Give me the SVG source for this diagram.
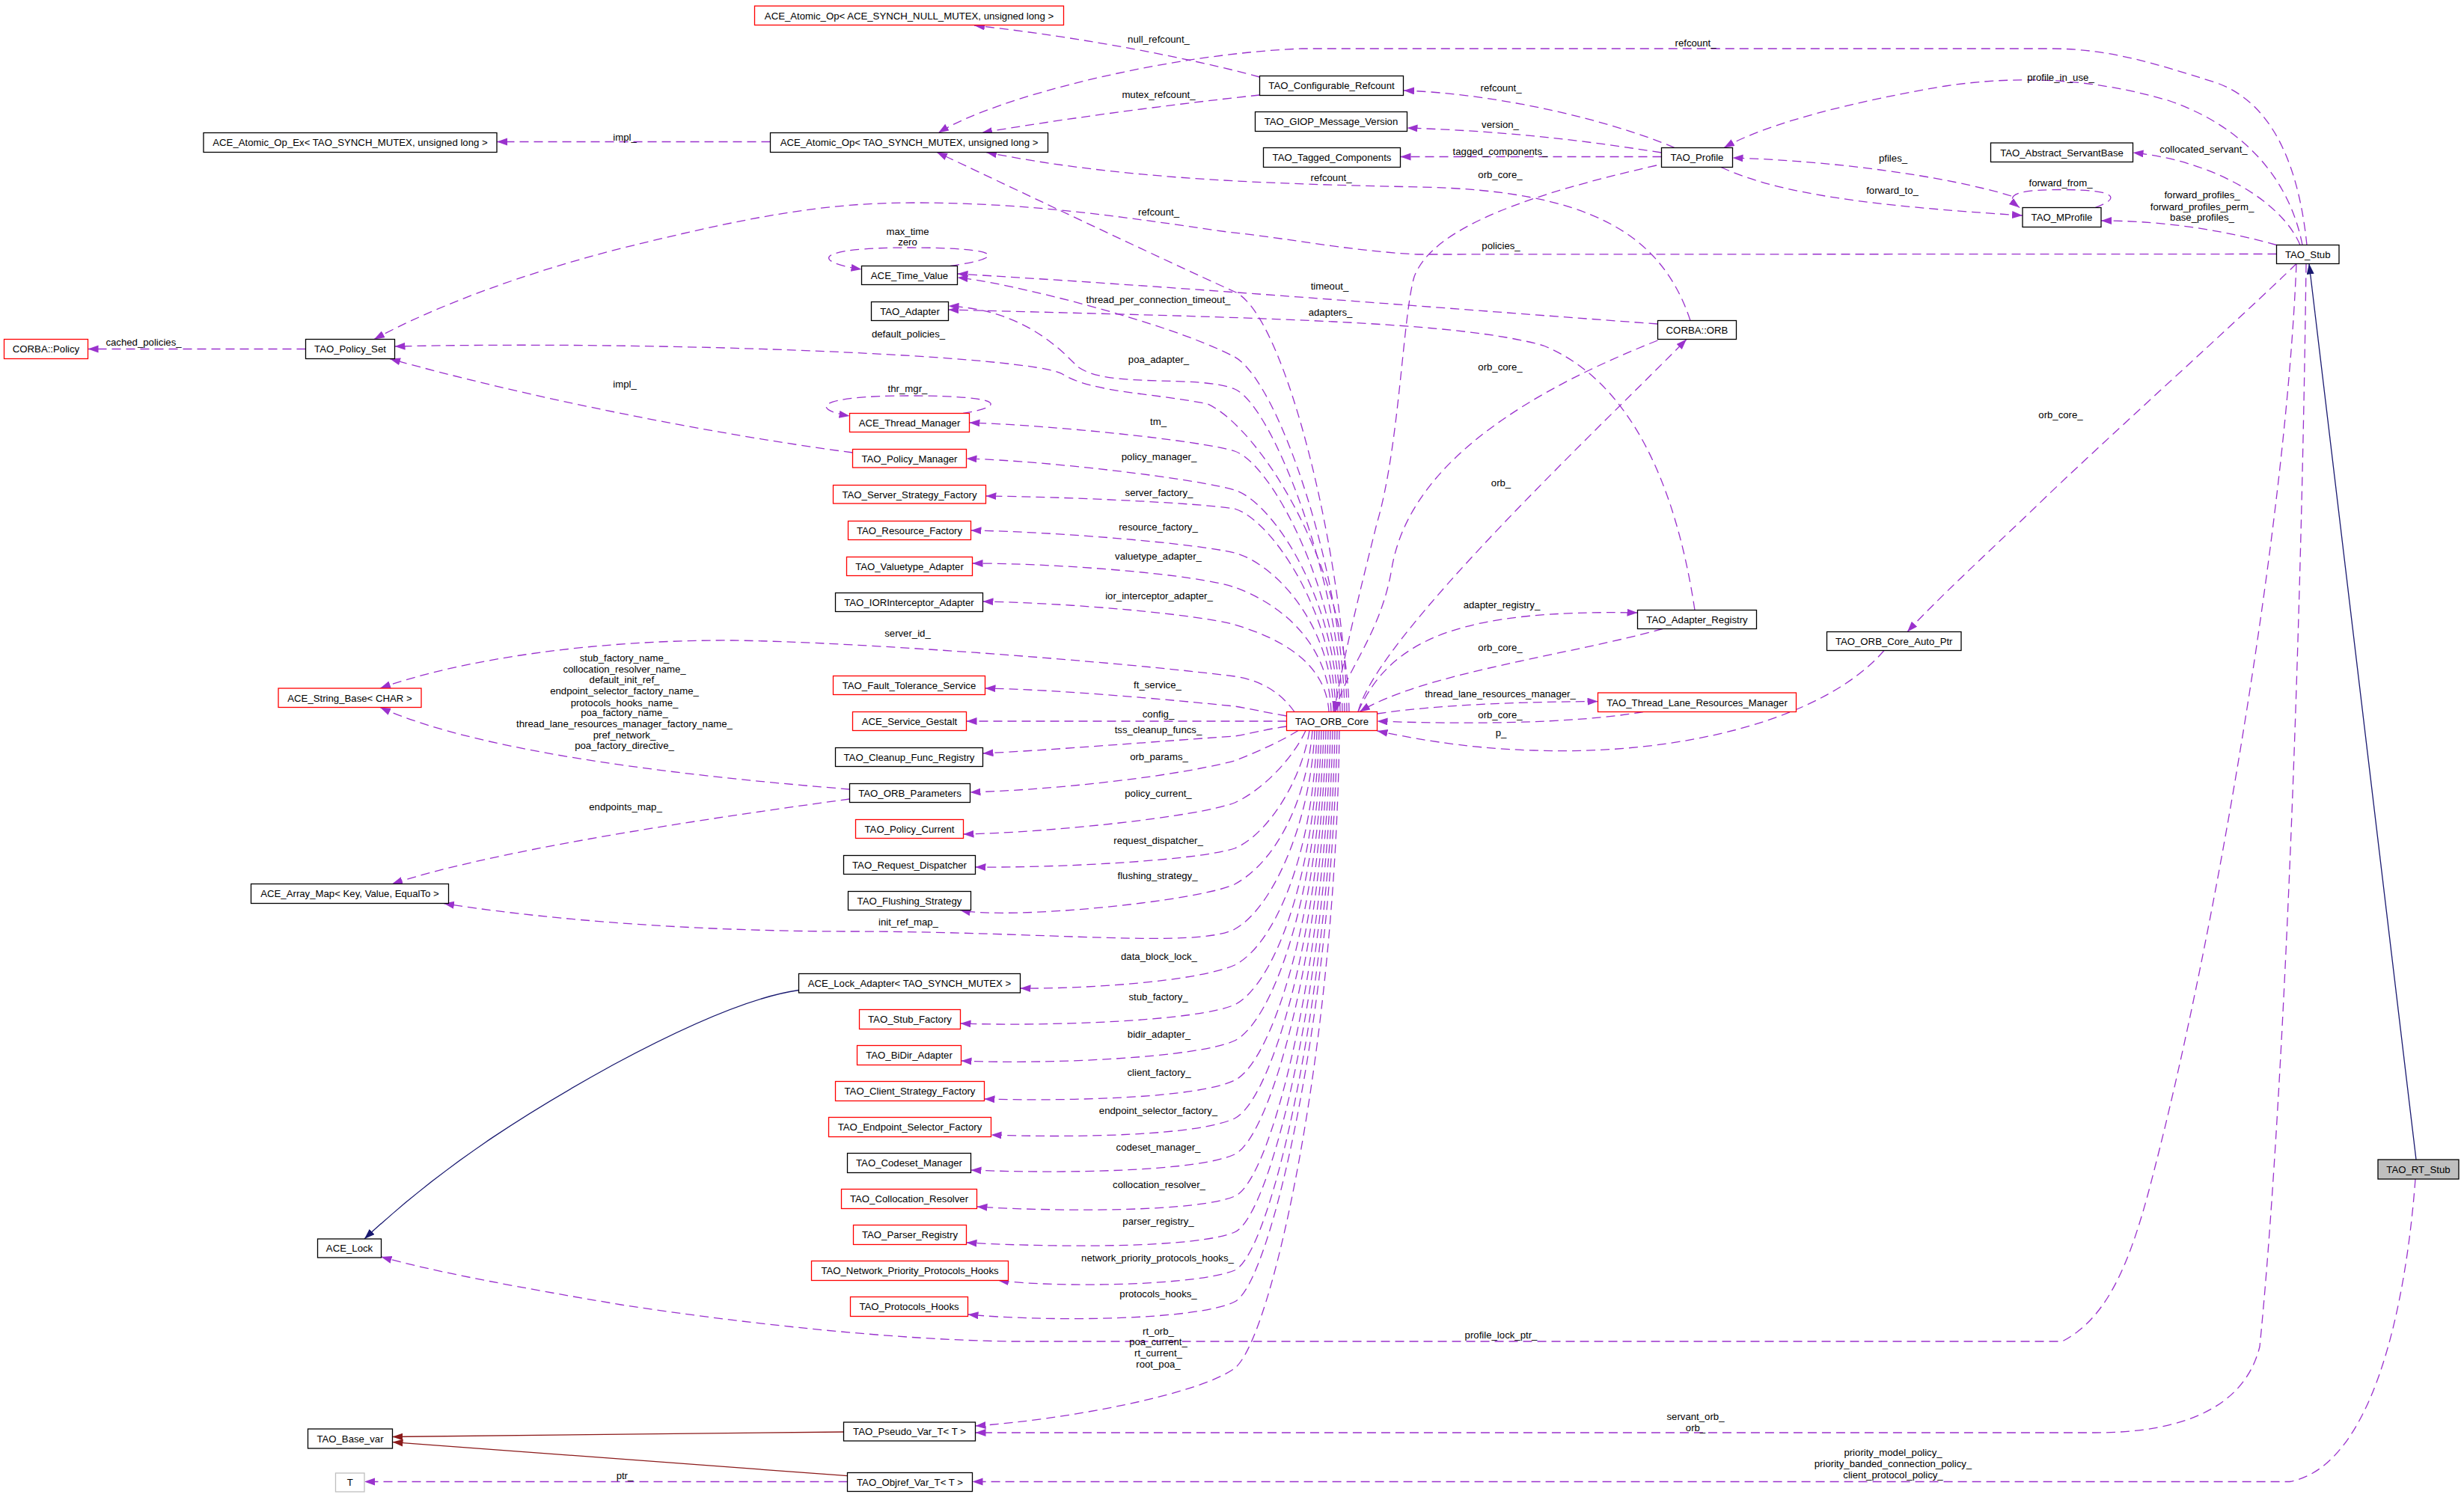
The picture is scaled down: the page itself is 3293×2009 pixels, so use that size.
<svg xmlns="http://www.w3.org/2000/svg" width="3293" height="2009" viewBox="0 0 3293 2009">
<style>
text{font-family:"Liberation Sans",Arial,sans-serif;font-size:13.2px;fill:#000;text-anchor:middle}
.n rect{fill:#fff;stroke:#000;stroke-width:1.3}
.r rect{stroke:#f00}
.g rect{stroke:#bfbfbf}
.s rect{fill:#bfbfbf}
.e{fill:none;stroke:#9a32cd;stroke-width:1.3;stroke-dasharray:12,7;marker-end:url(#ap)}
.i{fill:none;stroke:#191970;stroke-width:1.3;marker-end:url(#an)}
.t{fill:none;stroke:#8b1a1a;stroke-width:1.3;marker-end:url(#ar)}
</style>
<defs>
<marker id="ap" markerUnits="userSpaceOnUse" markerWidth="15" markerHeight="11" refX="14" refY="5" orient="auto"><path d="M0,0 L14,5 L0,10 z" fill="#9a32cd"/></marker>
<marker id="an" markerUnits="userSpaceOnUse" markerWidth="15" markerHeight="11" refX="14" refY="5" orient="auto"><path d="M0,0 L14,5 L0,10 z" fill="#191970"/></marker>
<marker id="ar" markerUnits="userSpaceOnUse" markerWidth="15" markerHeight="11" refX="14" refY="5" orient="auto"><path d="M0,0 L14,5 L0,10 z" fill="#8b1a1a"/></marker>
</defs>
<rect width="3293" height="2009" fill="#fff"/>
<g id="edges">
<path class="e" d="M408.5,466.5 L117.5,466.5"/>
<path class="e" d="M1029.5,189.5 L664,189.5"/>
<path class="e" d="M1683.5,103 C1600,80 1450,50 1302,34"/>
<path class="e" d="M1683.5,127 C1560,140 1400,162 1312,177.5"/>
<path class="e" d="M3083,327.5 C3075,250 3050,140 2960,110 C2880,85 2820,65 2740,65 L1740,65 C1560,72 1330,130 1254,177.5"/>
<path class="e" d="M2238,197.5 C2150,160 2000,125 1876,121"/>
<path class="e" d="M2220.5,204 C2100,185 2000,175 1880.5,171"/>
<path class="e" d="M2220.5,209.5 L1871.5,209.5"/>
<path class="e" d="M2214,221 C2047,259 1915,303 1890,370 C1875,420 1870,600 1840,700 C1820,780 1795,880 1783,951.5"/>
<path class="e" d="M2688,262 C2600,235 2450,215 2315.5,211"/>
<path class="e" d="M2300,223.5 C2380,260 2500,275 2703,288"/>
<path class="e" d="M2800,277.5 C2835,265 2830,253.5 2755,253.5 C2685,253.5 2680,263 2699,277.5"/>
<path class="e" d="M3077,327.5 C3060,240 3000,170 2900,135 C2800,105 2700,100 2600,115 C2480,135 2360,165 2304,197.5"/>
<path class="e" d="M3074,327.5 C3050,270 2960,215 2850.5,204"/>
<path class="e" d="M3042.5,327.5 C2980,310 2900,295 2808,295"/>
<path class="e" d="M3042.5,339.5 L1894,340 C1800,335 1720,318 1640,310 C1500,290 1380,271 1220,271 C1100,271 1000,290 830,332 C700,365 580,410 500,453.5"/>
<path class="e" d="M3069,352.5 C3055,700 2960,1250 2880,1560 C2850,1680 2820,1760 2756,1793 L1350,1793 C1200,1791 1000,1770 830,1744 C700,1722 580,1700 509.5,1680"/>
<path class="e" d="M3082,352.5 C3075,900 3050,1500 3020,1800 C3000,1880 2920,1915 2800,1915 L1303.5,1915"/>
<path class="e" d="M3069,352.5 C3000,420 2800,600 2719,679 C2650,745 2590,800 2549,844.5"/>
<path class="e" d="M2518,869.5 C2440,960 2250,1010 2050,1003 C1950,1000 1880,985 1840.5,977"/>
<path class="e" d="M2196,951.5 C2100,968 1950,968 1840.5,964"/>
<path class="e" d="M1840.5,954 C1900,945 2000,938 2135.5,937.6"/>
<path class="e" d="M1815,951.5 C1860,850 1960,815 2188.5,819"/>
<path class="e" d="M2222,840.5 C2100,875 1900,900 1817,951.5"/>
<path class="e" d="M2265,815.5 C2240,650 2180,510 2063,462 C1950,430 1700,425 1267.5,414"/>
<path class="e" d="M1815,951.5 C1840,850 2150,560 2254,453.5"/>
<path class="e" d="M2215.5,455 C2000,540 1880,640 1860,760 C1845,850 1795,900 1785,951.5"/>
<path class="e" d="M2259,428.5 C2220,310 2120,255 1900,250 C1700,246 1500,240 1318,203.5"/>
<path class="e" d="M2215.5,433 C1900,410 1600,385 1279.5,366"/>
<path class="e" d="M1270,355.5 C1345,345 1345,331 1215,331 C1085,331 1085,350 1151.5,360"/>
<path class="e" d="M1287,552.5 C1345,543 1345,529 1215,529 C1085,529 1085,548 1135.5,556"/>
<path class="e" d="M1139.5,605 C950,580 700,530 521,479.5"/>
<path class="e" d="M1135.5,1055 C950,1040 650,1010 508,945.5"/>
<path class="e" d="M1135.5,1068 C900,1100 650,1140 524,1181.5"/>
<path class="e" d="M1132.5,1980.5 L487,1980.5"/>
<path class="e" d="M3228,1576 C3215,1750 3170,1960 3060,1980.5 L1299.5,1980.5"/>
<path class="e" d="M1800,951.5 C1798,760 1720,421 1650,390 C1550,345 1332,241 1252,203.5"/>
<path class="e" d="M1797,951.5 C1795,770 1710,511 1650,477 C1560,430 1340,376 1279.5,371"/>
<path class="e" d="M1794,951.5 C1792,780 1700,540 1650,520 C1600,500 1480,520 1440,490 C1420,470 1370,414 1267.5,409"/>
<path class="e" d="M1803,951.5 C1800,750 1680,570 1614,540 C1540,525 1460,525 1420,500 C1380,476 900,455 527.5,463"/>
<path class="e" d="M1791,951.5 C1789,790 1700,620 1650,603 C1600,588 1400,568 1295.5,565"/>
<path class="e" d="M1788,951.5 C1786,800 1700,670 1650,655 C1600,640 1400,616 1291.5,613"/>
<path class="e" d="M1785,951.5 C1783,820 1700,695 1650,680 C1600,672 1420,664 1317.5,663"/>
<path class="e" d="M1782,951.5 C1780,830 1700,752 1650,739 C1600,727 1420,711 1297.5,709"/>
<path class="e" d="M1779,951.5 C1776,850 1700,803 1650,785 C1600,768 1420,753 1299.5,753"/>
<path class="e" d="M1776,951.5 C1772,880 1700,850 1650,835 C1600,821 1430,806 1313.5,804"/>
<path class="e" d="M1730,951.5 C1715,930 1690,910 1650,904 C1500,885 1150,858 979,856 C800,855 620,880 508,920"/>
<path class="e" d="M1719.5,957 C1690,952 1670,947 1650,944 C1560,935 1420,922 1316.5,920"/>
<path class="e" d="M1719.5,964 L1291.5,964"/>
<path class="e" d="M1719.5,971 C1690,975 1670,981 1650,984 C1560,990 1400,1003 1313.5,1007"/>
<path class="e" d="M1735,976.5 C1710,992 1680,1005 1650,1017 C1560,1040 1400,1056 1296.5,1059"/>
<path class="e" d="M1745,976.5 C1730,1010 1690,1055 1650,1073 C1600,1092 1400,1113 1287.5,1115"/>
<path class="e" d="M1750,976.5 C1738,1050 1690,1118 1650,1134 C1600,1150 1420,1160 1303.5,1159"/>
<path class="e" d="M1754,976.5 C1745,1080 1700,1155 1650,1182 C1600,1205 1350,1230 1283,1216.5"/>
<path class="e" d="M1757,976.5 C1752,1100 1700,1215 1650,1242 C1600,1268 1400,1245 1137,1245 C900,1245 700,1225 593,1207.5"/>
<path class="e" d="M1760,976.5 C1755,1150 1700,1265 1650,1290 C1600,1312 1450,1322 1363.5,1321"/>
<path class="e" d="M1763,976.5 C1757,1180 1700,1318 1650,1343 C1600,1365 1400,1372 1283.5,1368"/>
<path class="e" d="M1766,976.5 C1760,1200 1700,1366 1650,1391 C1600,1414 1400,1423 1284.5,1418"/>
<path class="e" d="M1769,976.5 C1763,1220 1700,1420 1650,1444 C1600,1468 1430,1472 1315.5,1469"/>
<path class="e" d="M1772,976.5 C1766,1240 1700,1470 1650,1495 C1600,1518 1440,1521 1324.5,1517"/>
<path class="e" d="M1775,976.5 C1769,1260 1700,1518 1650,1543 C1600,1566 1420,1569 1297.5,1564"/>
<path class="e" d="M1778,976.5 C1772,1280 1700,1578 1650,1599 C1600,1620 1420,1620 1305.5,1613"/>
<path class="e" d="M1781,976.5 C1775,1300 1700,1625 1650,1647 C1600,1668 1420,1668 1291.5,1661"/>
<path class="e" d="M1784,976.5 C1778,1320 1700,1675 1650,1698 C1600,1718 1420,1722 1334,1711.5"/>
<path class="e" d="M1787,976.5 C1781,1340 1700,1715 1650,1740 C1600,1765 1400,1767 1293.5,1757"/>
<path class="e" d="M1790,976.5 C1785,1400 1700,1790 1650,1829 C1600,1865 1420,1898 1303.5,1906"/>
<path class="i" d="M3229,1550 L3086,352.5"/>
<path class="i" d="M1067.5,1323.5 C1000,1333 900,1380 820,1423 C720,1478 600,1550 487,1656"/>
<path class="t" d="M1127.5,1914 C900,1915 700,1920 524.5,1920.5"/>
<path class="t" d="M1132.5,1972.7 L524.5,1927.6"/>
</g>
<g id="labels">
<text x="192" y="461.5">cached_policies_</text>
<text x="835" y="188">impl_</text>
<text x="1548.5" y="57.2">null_refcount_</text>
<text x="1548.5" y="131.3">mutex_refcount_</text>
<text x="1548.5" y="288.3">refcount_</text>
<text x="1213" y="313.5">max_time</text>
<text x="1213" y="328.2">zero</text>
<text x="1548" y="405.4">thread_per_connection_timeout_</text>
<text x="1214" y="451.4">default_policies_</text>
<text x="1548.5" y="485.2">poa_adapter_</text>
<text x="835" y="517.7">impl_</text>
<text x="1213" y="524.2">thr_mgr_</text>
<text x="1548" y="568.4">tm_</text>
<text x="1549" y="615.3">policy_manager_</text>
<text x="1549" y="663.4">server_factory_</text>
<text x="1548" y="708.5">resource_factory_</text>
<text x="1548" y="747.6">valuetype_adapter_</text>
<text x="1549" y="800.5">ior_interceptor_adapter_</text>
<text x="1213" y="851.2">server_id_</text>
<text x="1547" y="920.1">ft_service_</text>
<text x="1548" y="959.2">config_</text>
<text x="1548" y="979.6">tss_cleanup_funcs_</text>
<text x="1549" y="1015.6">orb_params_</text>
<text x="1548" y="1065.4">policy_current_</text>
<text x="1548" y="1128.3">request_dispatcher_</text>
<text x="1547" y="1175.1">flushing_strategy_</text>
<text x="1214" y="1237.1">init_ref_map_</text>
<text x="1549" y="1283.1">data_block_lock_</text>
<text x="1548" y="1336.5">stub_factory_</text>
<text x="1549" y="1387.2">bidir_adapter_</text>
<text x="1549" y="1437.5">client_factory_</text>
<text x="1548" y="1488.7">endpoint_selector_factory_</text>
<text x="1548" y="1537.7">codeset_manager_</text>
<text x="1549" y="1587.5">collocation_resolver_</text>
<text x="1548" y="1636.9">parser_registry_</text>
<text x="1547" y="1686">network_priority_protocols_hooks_</text>
<text x="1548" y="1734.1">protocols_hooks_</text>
<text x="1548" y="1784">rt_orb_</text>
<text x="1548" y="1798.3">poa_current_</text>
<text x="1548" y="1813">rt_current_</text>
<text x="1548" y="1828.2">root_poa_</text>
<text x="834.5" y="884.2">stub_factory_name_</text>
<text x="834.5" y="899.3">collocation_resolver_name_</text>
<text x="834.5" y="913.2">default_init_ref_</text>
<text x="834.5" y="928.4">endpoint_selector_factory_name_</text>
<text x="834.5" y="943.6">protocols_hooks_name_</text>
<text x="834.5" y="957.4">poa_factory_name_</text>
<text x="834.5" y="972.2">thread_lane_resources_manager_factory_name_</text>
<text x="834.5" y="987.4">pref_network_</text>
<text x="834.5" y="1001.2">poa_factory_directive_</text>
<text x="836" y="1083.2">endpoints_map_</text>
<text x="835" y="1976.7">ptr_</text>
<text x="2266" y="61.7">refcount_</text>
<text x="2006" y="121.7">refcount_</text>
<text x="2005" y="171.2">version_</text>
<text x="2005" y="207.2">tagged_components_</text>
<text x="2005" y="237.7">orb_core_</text>
<text x="1779" y="241.7">refcount_</text>
<text x="2006" y="332.7">policies_</text>
<text x="1777" y="387.2">timeout_</text>
<text x="1778" y="421.7">adapters_</text>
<text x="2005" y="495.2">orb_core_</text>
<text x="2006" y="649.7">orb_</text>
<text x="2007" y="812.7">adapter_registry_</text>
<text x="2005" y="869.7">orb_core_</text>
<text x="2005" y="932.3">thread_lane_resources_manager_</text>
<text x="2005" y="959.7">orb_core_</text>
<text x="2006" y="984.3">p_</text>
<text x="2754" y="107.7">profile_in_use_</text>
<text x="2945" y="204.2">collocated_servant_</text>
<text x="2530" y="215.7">pfiles_</text>
<text x="2754" y="249.3">forward_from_</text>
<text x="2529" y="259.3">forward_to_</text>
<text x="2943" y="265.3">forward_profiles_</text>
<text x="2943" y="280.5">forward_profiles_perm_</text>
<text x="2943" y="295.2">base_profiles_</text>
<text x="2754" y="559.3">orb_core_</text>
<text x="2006" y="1789.2">profile_lock_ptr_</text>
<text x="2266" y="1898.4">servant_orb_</text>
<text x="2266" y="1913.2">orb_</text>
<text x="2530" y="1946.1">priority_model_policy_</text>
<text x="2530" y="1961.3">priority_banded_connection_policy_</text>
<text x="2530" y="1976.1">client_protocol_policy_</text>
</g>
<g id="n1" class="n"><rect x="272" y="177.5" width="392" height="26"/><text x="468" y="195.2">ACE_Atomic_Op_Ex&lt; TAO_SYNCH_MUTEX, unsigned long &gt;</text></g>
<g id="n2" class="n r"><rect x="5.5" y="453.5" width="112" height="26"/><text x="61.5" y="471.2">CORBA::Policy</text></g>
<g id="n3" class="n"><rect x="408.5" y="453.5" width="119" height="26"/><text x="468" y="471.2">TAO_Policy_Set</text></g>
<g id="n4" class="n r"><rect x="1008.5" y="8" width="413" height="25.5"/><text x="1215" y="25.5">ACE_Atomic_Op&lt; ACE_SYNCH_NULL_MUTEX, unsigned long &gt;</text></g>
<g id="n5" class="n"><rect x="1029.5" y="177.5" width="371" height="26"/><text x="1215" y="195.2">ACE_Atomic_Op&lt; TAO_SYNCH_MUTEX, unsigned long &gt;</text></g>
<g id="n6" class="n"><rect x="1151.5" y="355.5" width="128" height="25"/><text x="1215.5" y="372.7">ACE_Time_Value</text></g>
<g id="n7" class="n"><rect x="1164.5" y="403.5" width="103" height="25"/><text x="1216" y="420.7">TAO_Adapter</text></g>
<g id="n8" class="n r"><rect x="1135.5" y="552.5" width="160" height="25"/><text x="1215.5" y="569.7">ACE_Thread_Manager</text></g>
<g id="n9" class="n r"><rect x="1139.5" y="600.5" width="152" height="24.5"/><text x="1215.5" y="617.5">TAO_Policy_Manager</text></g>
<g id="n10" class="n r"><rect x="1113.5" y="648.5" width="204" height="24.5"/><text x="1215.5" y="665.5">TAO_Server_Strategy_Factory</text></g>
<g id="n11" class="n r"><rect x="1133.5" y="696.5" width="164" height="25"/><text x="1215.5" y="713.7">TAO_Resource_Factory</text></g>
<g id="n12" class="n r"><rect x="1131.5" y="744.5" width="168" height="25"/><text x="1215.5" y="761.7">TAO_Valuetype_Adapter</text></g>
<g id="n13" class="n"><rect x="1116.5" y="792.5" width="197" height="25"/><text x="1215" y="809.7">TAO_IORInterceptor_Adapter</text></g>
<g id="n14" class="n r"><rect x="1113.5" y="903.5" width="203" height="25"/><text x="1215" y="920.7">TAO_Fault_Tolerance_Service</text></g>
<g id="n15" class="n r"><rect x="1139.5" y="951.5" width="152" height="25"/><text x="1215.5" y="968.7">ACE_Service_Gestalt</text></g>
<g id="n16" class="n"><rect x="1116.5" y="999.5" width="197" height="25"/><text x="1215" y="1016.7">TAO_Cleanup_Func_Registry</text></g>
<g id="n17" class="n"><rect x="1135.5" y="1047.5" width="161" height="25"/><text x="1216" y="1064.7">TAO_ORB_Parameters</text></g>
<g id="n18" class="n r"><rect x="1143.5" y="1095.5" width="144" height="25"/><text x="1215.5" y="1112.7">TAO_Policy_Current</text></g>
<g id="n19" class="n"><rect x="1127.5" y="1143.5" width="176" height="25"/><text x="1215.5" y="1160.7">TAO_Request_Dispatcher</text></g>
<g id="n20" class="n"><rect x="1133.5" y="1191.5" width="164" height="25"/><text x="1215.5" y="1208.7">TAO_Flushing_Strategy</text></g>
<g id="n21" class="n"><rect x="1067.5" y="1301.5" width="296" height="25.5"/><text x="1215.5" y="1319">ACE_Lock_Adapter&lt; TAO_SYNCH_MUTEX &gt;</text></g>
<g id="n22" class="n r"><rect x="1148.5" y="1349.5" width="135" height="26"/><text x="1216" y="1367.2">TAO_Stub_Factory</text></g>
<g id="n23" class="n r"><rect x="1145.5" y="1397.5" width="139" height="26"/><text x="1215" y="1415.2">TAO_BiDir_Adapter</text></g>
<g id="n24" class="n r"><rect x="1116.5" y="1445.5" width="199" height="26"/><text x="1216" y="1463.2">TAO_Client_Strategy_Factory</text></g>
<g id="n25" class="n r"><rect x="1107.5" y="1493.5" width="217" height="26"/><text x="1216" y="1511.2">TAO_Endpoint_Selector_Factory</text></g>
<g id="n26" class="n"><rect x="1132.5" y="1541.5" width="165" height="26"/><text x="1215" y="1559.2">TAO_Codeset_Manager</text></g>
<g id="n27" class="n r"><rect x="1124.5" y="1589.5" width="181" height="26"/><text x="1215" y="1607.2">TAO_Collocation_Resolver</text></g>
<g id="n28" class="n r"><rect x="1140.5" y="1637.5" width="151" height="26"/><text x="1216" y="1655.2">TAO_Parser_Registry</text></g>
<g id="n29" class="n r"><rect x="1084.5" y="1685.5" width="263" height="26"/><text x="1216" y="1703.2">TAO_Network_Priority_Protocols_Hooks</text></g>
<g id="n30" class="n r"><rect x="1136.5" y="1733.5" width="157" height="26"/><text x="1215" y="1751.2">TAO_Protocols_Hooks</text></g>
<g id="n31" class="n"><rect x="1127.5" y="1901" width="176" height="25"/><text x="1215.5" y="1918.2">TAO_Pseudo_Var_T&lt; T &gt;</text></g>
<g id="n32" class="n"><rect x="1132.5" y="1968.5" width="167" height="25"/><text x="1216" y="1985.7">TAO_Objref_Var_T&lt; T &gt;</text></g>
<g id="n33" class="n"><rect x="411.5" y="1910" width="113" height="26"/><text x="468" y="1927.7">TAO_Base_var</text></g>
<g id="n34" class="n g"><rect x="448.5" y="1969" width="38.5" height="25"/><text x="467.7" y="1986.2">T</text></g>
<g id="n35" class="n"><rect x="424.5" y="1656" width="85" height="25"/><text x="467" y="1673.2">ACE_Lock</text></g>
<g id="n36" class="n r"><rect x="372" y="920" width="191" height="25.5"/><text x="467.5" y="937.5">ACE_String_Base&lt; CHAR &gt;</text></g>
<g id="n37" class="n"><rect x="335.5" y="1181.5" width="264" height="26"/><text x="467.5" y="1199.2">ACE_Array_Map&lt; Key, Value, EqualTo &gt;</text></g>
<g id="n38" class="n"><rect x="1683.5" y="101.5" width="192" height="26"/><text x="1779.5" y="119.2">TAO_Configurable_Refcount</text></g>
<g id="n39" class="n"><rect x="1677.5" y="149.5" width="203" height="26"/><text x="1779" y="167.2">TAO_GIOP_Message_Version</text></g>
<g id="n40" class="n"><rect x="1688.5" y="197.5" width="183" height="26"/><text x="1780" y="215.2">TAO_Tagged_Components</text></g>
<g id="n41" class="n"><rect x="2220.5" y="197.5" width="95" height="26"/><text x="2268" y="215.2">TAO_Profile</text></g>
<g id="n42" class="n"><rect x="2215.5" y="428.5" width="105" height="25"/><text x="2268" y="445.7">CORBA::ORB</text></g>
<g id="n43" class="n r"><rect x="1719.5" y="951.5" width="121" height="25"/><text x="1780" y="968.7">TAO_ORB_Core</text></g>
<g id="n44" class="n"><rect x="2188.5" y="815.5" width="159" height="25"/><text x="2268" y="832.7">TAO_Adapter_Registry</text></g>
<g id="n45" class="n r"><rect x="2135.5" y="926" width="265" height="25.5"/><text x="2268" y="943.5">TAO_Thread_Lane_Resources_Manager</text></g>
<g id="n46" class="n"><rect x="2441.5" y="844.5" width="179.5" height="25"/><text x="2531.2" y="861.7">TAO_ORB_Core_Auto_Ptr</text></g>
<g id="n47" class="n"><rect x="2660.5" y="191" width="190" height="25.5"/><text x="2755.5" y="208.5">TAO_Abstract_ServantBase</text></g>
<g id="n48" class="n"><rect x="2703" y="277.5" width="105" height="26"/><text x="2755.5" y="295.2">TAO_MProfile</text></g>
<g id="n49" class="n"><rect x="3042.5" y="327.5" width="83.5" height="25"/><text x="3084.2" y="344.7">TAO_Stub</text></g>
<g id="n50" class="n s"><rect x="3178" y="1550" width="108" height="26"/><text x="3232" y="1567.7">TAO_RT_Stub</text></g>
</svg>
